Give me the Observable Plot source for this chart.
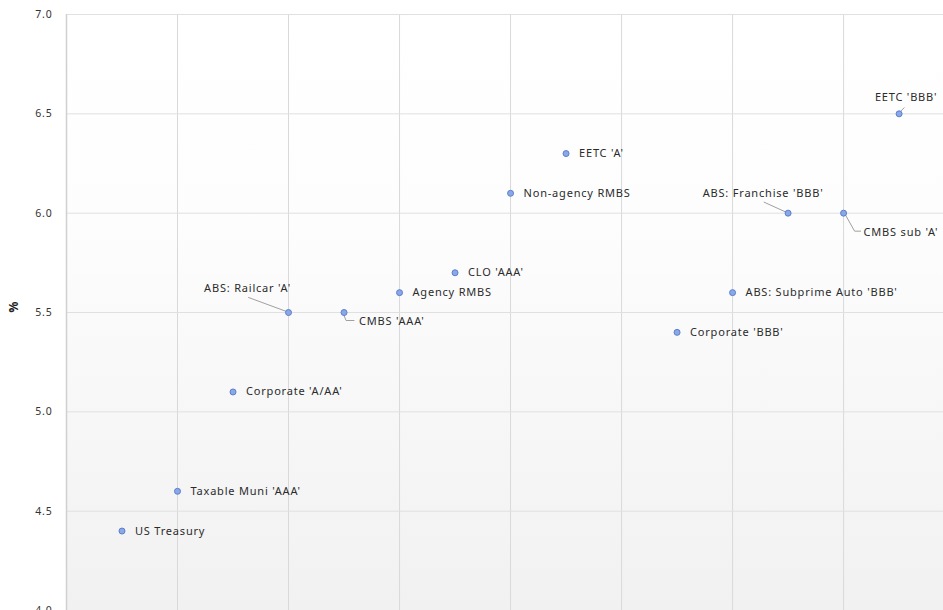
<!DOCTYPE html>
<html>
<head>
<meta charset="utf-8">
<script src="https://cdn.jsdelivr.net/npm/d3@7"></script>
<script src="https://cdn.jsdelivr.net/npm/@observablehq/plot@0.6"></script>
<style>
  html, body { margin: 0; padding: 0; background: #ffffff; overflow: hidden; }
  #chart svg { display: block; }
</style>
</head>
<body>
<div id="chart"></div>
<script>
// Yield by sector (%), plotted against an ordinal risk position
const sectors = [
  "US Treasury", "Taxable Muni 'AAA'", "Corporate 'A/AA'", "ABS: Railcar 'A'",
  "CMBS 'AAA'", "Agency RMBS", "CLO 'AAA'", "Non-agency RMBS", "EETC 'A'",
  "Corporate 'BBB'", "ABS: Subprime Auto 'BBB'", "ABS: Franchise 'BBB'",
  "CMBS sub 'A'", "EETC 'BBB'"
];
const positions = [1, 2, 3, 4, 5, 6, 7, 8, 9, 11, 12, 13, 14, 15];
const yields = [4.4, 4.6, 5.1, 5.5, 5.5, 5.6, 5.7, 6.1, 6.3, 5.4, 5.6, 6.0, 6.0, 6.5];
const yTicks = [4.0, 4.5, 5.0, 5.5, 6.0, 6.5, 7.0];
const xGrid = [0, 2, 4, 6, 8, 10, 12, 14];

const points = sectors.map((name, i) => ({name, x: positions[i], y: yields[i]}));

// Labels that sit away from their dot, with a pixel-space leader path
const placed = {
  "ABS: Railcar 'A'":     {anchor: "middle", dx: -41, dy: -24, path: [[-2, -1], [-40, -15]]},
  "CMBS 'AAA'":           {anchor: "start",  dx: 15,  dy: 9,   path: [[0, 3], [2, 8], [10, 8]]},
  "ABS: Franchise 'BBB'": {anchor: "middle", dx: -25, dy: -20, path: [[-2, -1], [-24, -11]]},
  "CMBS sub 'A'":         {anchor: "start",  dx: 20,  dy: 19,  path: [[2, 2], [11, 18], [17, 18]]},
  "EETC 'BBB'":           {anchor: "middle", dx: 7,   dy: -16, path: [[1, -2], [5, -6]]}
};

const textColor = "#2b2b2b";

const leaderMarks = Object.entries(placed).map(([name, p]) =>
  Plot.vector(points.filter(d => d.name === name), {
    x: "x", y: "y", anchor: "start", rotate: 0,
    stroke: "#a0a0a0", strokeWidth: 1,
    shape: {
      draw(ctx) {
        ctx.moveTo(p.path[0][0], p.path[0][1]);
        for (const [px, py] of p.path.slice(1)) ctx.lineTo(px, py);
      }
    }
  })
);

const placedLabelMarks = Object.entries(placed).map(([name, p]) =>
  Plot.text(points.filter(d => d.name === name), {
    x: "x", y: "y", text: "name", textAnchor: p.anchor, dx: p.dx, dy: p.dy,
    fill: textColor
  })
);

const backgroundDefs = () => {
  const defs = d3.create("svg:defs");
  const g = defs.append("linearGradient").attr("id", "plot-bg")
    .attr("x1", 0).attr("y1", 0).attr("x2", 0).attr("y2", 1);
  g.append("stop").attr("offset", "0%").attr("stop-color", "#ffffff");
  g.append("stop").attr("offset", "35%").attr("stop-color", "#fdfdfd");
  g.append("stop").attr("offset", "100%").attr("stop-color", "#f1f1f1");
  return defs.node();
};

const chart = Plot.plot({
  width: 943,
  height: 610,
  marginLeft: 66,
  marginRight: 0,
  marginTop: 14,
  marginBottom: 0,
  style: {fontFamily: "'Noto Sans', sans-serif", fontSize: "11px", letterSpacing: "0.8px", color: textColor, background: "transparent"},
  x: {domain: [0, 15.8], axis: null},
  y: {domain: [4, 7], ticks: yTicks, tickFormat: d3.format(".1f"), tickSize: 0, tickPadding: 14, label: null},
  marks: [
    backgroundDefs,
    Plot.frame({fill: "url(#plot-bg)", stroke: null}),
    Plot.gridX(xGrid, {stroke: "#d9d9d9", strokeOpacity: 1}),
    Plot.gridY(yTicks, {stroke: "#e0e0e0", strokeOpacity: 1}),
    Plot.ruleX([0], {stroke: "#d0d0d0", strokeWidth: 1.5}),
    Plot.axisY({ticks: yTicks, tickFormat: d3.format(".1f"), tickSize: 0, tickPadding: 14, label: null, fontSize: 10.5, fill: "#333"}),
    ...leaderMarks,
    Plot.dot(points, {x: "x", y: "y", r: 3, fill: "#8aa8e6", stroke: "#5b7fcf", strokeWidth: 1}),
    Plot.text(points.filter(d => !(d.name in placed)), {
      x: "x", y: "y", text: "name", textAnchor: "start", dx: 13, fill: textColor
    }),
    ...placedLabelMarks,
    Plot.text(["%"], {frameAnchor: "left", dx: -52, rotate: -90, text: d => d, fontWeight: "bold", fontSize: 12, fill: "#222"})
  ]
});

document.getElementById("chart").append(chart);
</script>
</body>
</html>
